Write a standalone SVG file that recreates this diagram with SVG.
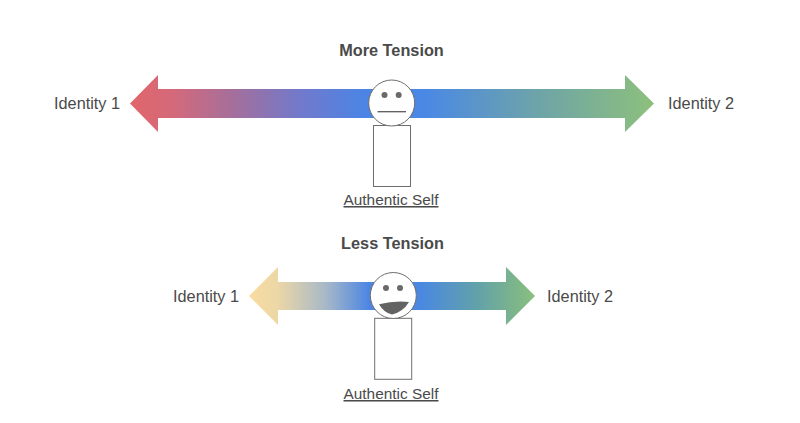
<svg xmlns="http://www.w3.org/2000/svg" width="800" height="423" viewBox="0 0 800 423">
<style>
.t{font-family:"Liberation Sans",Arial,sans-serif;fill:#4a4a4a;font-size:16.3px}
.b{font-weight:bold;text-anchor:middle}
.u{font-size:15.4px;text-anchor:middle;text-decoration:underline}
.o{fill:#fff;stroke:#6e6e6e;stroke-width:1}
.e{fill:#6a6a6a}
</style>
<defs>
<linearGradient id="g1" gradientUnits="userSpaceOnUse" x1="130" y1="0" x2="654" y2="0">
<stop offset="0" stop-color="#e0666a"/><stop offset="0.08" stop-color="#d5697a"/><stop offset="0.2" stop-color="#a36f9c"/><stop offset="0.32" stop-color="#7379ca"/><stop offset="0.44" stop-color="#4d84e4"/><stop offset="0.56" stop-color="#4a88e6"/><stop offset="0.78" stop-color="#6ea4a8"/><stop offset="1" stop-color="#8dc07c"/>
</linearGradient>
<linearGradient id="g2" gradientUnits="userSpaceOnUse" x1="249" y1="0" x2="535" y2="0">
<stop offset="0" stop-color="#f9dca0"/><stop offset="0.1" stop-color="#ecd7a6"/><stop offset="0.27" stop-color="#a6b8c8"/><stop offset="0.42" stop-color="#4d86e2"/><stop offset="0.6" stop-color="#4a88e2"/><stop offset="0.8" stop-color="#62a2a8"/><stop offset="1" stop-color="#8abf7c"/>
</linearGradient>
</defs>
<g id="connectors">
<polygon id="arrow-top" fill="url(#g1)" points="130,103.5 158,75 158,89 625,89 625,75 654,103.5 625,132 625,118 158,118 158,132"/>
<polygon id="arrow-bottom" fill="url(#g2)" points="249,296 278,267 278,282 506,282 506,267 535,296 506,325 506,310 278,310 278,325"/>
</g>
<text class="t b" x="391.5" y="55.5">More Tension</text>
<text class="t b" x="392.5" y="248.5">Less Tension</text>
<g id="identity-1-top"><text class="t" x="54" y="109">Identity 1</text></g>
<g id="identity-2-top"><text class="t" x="668" y="109">Identity 2</text></g>
<g id="identity-1-bottom"><text class="t" x="173" y="302">Identity 1</text></g>
<g id="identity-2-bottom"><text class="t" x="547" y="302">Identity 2</text></g>
<g id="self-top">
<rect class="o" x="373.5" y="125.5" width="37" height="61"/>
<circle class="o" cx="391.7" cy="103" r="23"/>
<circle class="e" cx="384.5" cy="95" r="3"/><circle class="e" cx="398.7" cy="95" r="3"/>
<path d="M377.5 111.7H406" stroke="#5a5a5a" stroke-width="1.3" fill="none"/>
<text class="t u" x="391" y="205">Authentic Self</text>
</g>
<g id="self-bottom">
<rect class="o" x="374.7" y="318.3" width="37" height="61"/>
<circle class="o" cx="393.3" cy="295.5" r="23"/>
<circle class="e" cx="386" cy="288" r="3"/><circle class="e" cx="400" cy="288" r="3"/>
<path d="M379 304.3Q394 300.5 409 302Q403 312 392 314.5Q384 313 379 304.3Z" fill="#636363"/>
<text class="t u" x="391" y="399">Authentic Self</text>
</g>
</svg>
